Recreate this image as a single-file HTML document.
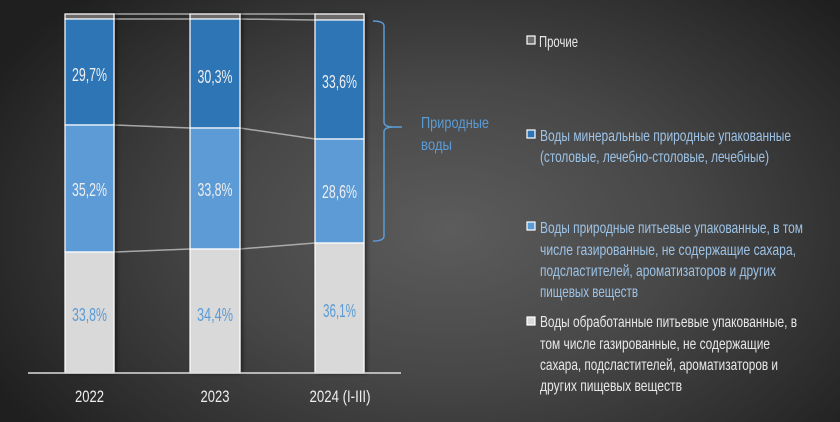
<!DOCTYPE html>
<html><head><meta charset="utf-8"><style>
html,body{margin:0;padding:0}
body{width:840px;height:422px;overflow:hidden;background:radial-gradient(ellipse 520px 330px at 450px 230px,#5c5c5c 0%,#474747 45%,#2e2e2e 80%,#1f1f1f 100%);}
svg{display:block}
text{font-family:"Liberation Sans Narrow","Liberation Sans",sans-serif;}
</style></head><body>
<svg width="840" height="422" viewBox="0 0 840 422">
<defs><filter id="sh" x="-20%" y="-5%" width="140%" height="110%"><feDropShadow dx="2" dy="0" stdDeviation="2" flood-color="#000" flood-opacity="0.5"/></filter></defs>
<g stroke="#bbb" stroke-width="1.5" fill="none" opacity="0.85">
<line x1="114" y1="14" x2="190" y2="14"/><line x1="240" y1="14" x2="315" y2="14"/>
<line x1="114" y1="19" x2="190" y2="19"/><line x1="240" y1="19" x2="315" y2="20"/>
<line x1="114" y1="125" x2="190" y2="128"/><line x1="240" y1="128" x2="315" y2="139"/>
<line x1="114" y1="252" x2="190" y2="249"/><line x1="240" y1="249" x2="315" y2="243"/>
</g>
<g stroke="#fff" stroke-width="1.2" filter="url(#sh)">
<rect x="65" y="14" width="49" height="5" fill="#6e6a6a"/><rect x="65" y="19" width="49" height="106" fill="#2e74b5"/><rect x="65" y="125" width="49" height="127" fill="#5b9bd5"/><rect x="65" y="252" width="49" height="121" fill="#d9d9d9"/>
<rect x="190" y="14" width="50" height="5" fill="#6e6a6a"/><rect x="190" y="19" width="50" height="109" fill="#2e74b5"/><rect x="190" y="128" width="50" height="121" fill="#5b9bd5"/><rect x="190" y="249" width="50" height="124" fill="#d9d9d9"/>
<rect x="315" y="14" width="49" height="6" fill="#6e6a6a"/><rect x="315" y="20" width="49" height="119" fill="#2e74b5"/><rect x="315" y="139" width="49" height="104" fill="#5b9bd5"/><rect x="315" y="243" width="49" height="130" fill="#d9d9d9"/>
</g>
<line x1="28" y1="373" x2="401" y2="373" stroke="#ddd" stroke-width="1.5"/>
<g font-size="18" text-anchor="middle" fill="#eee">
<text x="89.5" y="81" textLength="35" lengthAdjust="spacingAndGlyphs">29,7%</text>
<text x="215" y="83" textLength="35" lengthAdjust="spacingAndGlyphs">30,3%</text>
<text x="339.5" y="88" textLength="35" lengthAdjust="spacingAndGlyphs">33,6%</text>
<text x="89.5" y="196" textLength="35" lengthAdjust="spacingAndGlyphs">35,2%</text>
<text x="215" y="196" textLength="35" lengthAdjust="spacingAndGlyphs">33,8%</text>
<text x="339.5" y="198" textLength="35" lengthAdjust="spacingAndGlyphs">28,6%</text>
</g>
<g font-size="18" text-anchor="middle" fill="#5b9bd5">
<text x="89.5" y="321" textLength="35" lengthAdjust="spacingAndGlyphs">33,8%</text>
<text x="215" y="321" textLength="36" lengthAdjust="spacingAndGlyphs">34,4%</text>
<text x="339.5" y="317" textLength="33" lengthAdjust="spacingAndGlyphs">36,1%</text>
</g>
<g font-size="17" text-anchor="middle" fill="#eee">
<text x="89.5" y="402" textLength="29" lengthAdjust="spacingAndGlyphs">2022</text>
<text x="215" y="402" textLength="29" lengthAdjust="spacingAndGlyphs">2023</text>
<text x="340" y="402" textLength="61" lengthAdjust="spacingAndGlyphs">2024 (I-III)</text>
</g>
<path d="M373 21 Q384 21 384 26 L384 122 Q384 127 394 127 L402 127 M394 127 Q384 127 384 132 L384 236 Q384 241 373 241" stroke="#5b9bd5" stroke-width="1.5" fill="none"/>
<g font-size="16" fill="#5b9bd5">
<text x="421" y="128" textLength="68" lengthAdjust="spacingAndGlyphs">Природные</text>
<text x="421" y="150" textLength="31" lengthAdjust="spacingAndGlyphs">воды</text>
</g>
<g stroke="#fff" stroke-width="1.2">
<rect x="527" y="36" width="8" height="8" fill="#6e6a6a"/>
<rect x="527" y="130" width="8" height="8" fill="#2e74b5"/>
<rect x="527" y="222" width="8" height="8" fill="#5b9bd5"/>
<rect x="527" y="317" width="8" height="8" fill="#d9d9d9"/>
</g>
<g font-size="16" fill="#e8e8e8">
<text x="539" y="47" textLength="39" lengthAdjust="spacingAndGlyphs">Прочие</text>
</g>
<g font-size="16" fill="#9dc3e6">
<text x="540" y="141" textLength="251" lengthAdjust="spacingAndGlyphs">Воды минеральные природные упакованные</text>
<text x="540" y="162" textLength="229" lengthAdjust="spacingAndGlyphs">(столовые, лечебно-столовые, лечебные)</text>
<text x="540" y="233" textLength="263" lengthAdjust="spacingAndGlyphs">Воды природные питьевые упакованные, в том</text>
<text x="540" y="255" textLength="256" lengthAdjust="spacingAndGlyphs">числе газированные, не содержащие сахара,</text>
<text x="540" y="276" textLength="236" lengthAdjust="spacingAndGlyphs">подсластителей, ароматизаторов и других</text>
<text x="540" y="297" textLength="98" lengthAdjust="spacingAndGlyphs">пищевых веществ</text>
</g>
<g font-size="16" fill="#e8e8e8">
<text x="540" y="327" textLength="257" lengthAdjust="spacingAndGlyphs">Воды обработанные питьевые упакованные, в</text>
<text x="540" y="349" textLength="230" lengthAdjust="spacingAndGlyphs">том числе газированные, не содержащие</text>
<text x="540" y="370" textLength="238" lengthAdjust="spacingAndGlyphs">сахара, подсластителей, ароматизаторов и</text>
<text x="540" y="391" textLength="142" lengthAdjust="spacingAndGlyphs">других пищевых веществ</text>
</g>
</svg>
</body></html>
